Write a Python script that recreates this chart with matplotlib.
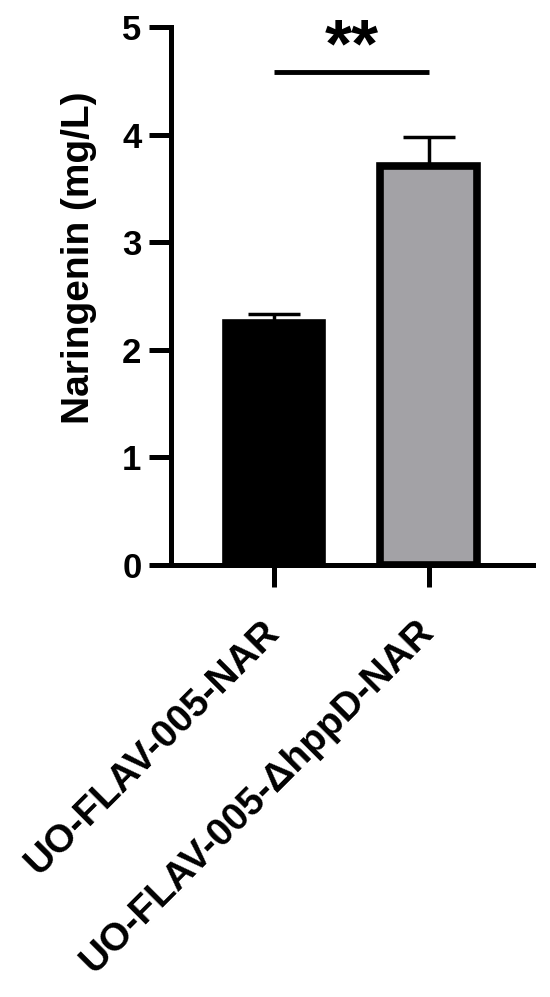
import numpy as np
import matplotlib
matplotlib.use('Agg')
import matplotlib.pyplot as plt

# values
strains = ['UO-FLAV-005-NAR', 'UO-FLAV-005-\u0394hppD-NAR']
naringenin = [2.25, 3.71]
sem = [0.085, 0.27]
bar_colors = ['#000000', '#a3a2a6']
sig_label = '**'

plt.rcParams['font.family'] = ['Liberation Sans', 'DejaVu Sans']
plt.rcParams['font.weight'] = 'bold'

fig = plt.figure(figsize=(5.5, 9.97), dpi=100)
ax = fig.add_axes([0.3104, 0.4333, 0.6587, 0.5393])

x = np.arange(len(strains))
ax.bar(x, naringenin, width=0.625, color=bar_colors, edgecolor='black',
       linewidth=5.5, zorder=2)
ax.errorbar(x, naringenin, yerr=[np.zeros(len(sem)), sem], fmt='none',
            ecolor='black', elinewidth=2.5, capsize=19, capthick=2.5, zorder=1)

# significance bar
ax.plot([0, 1], [4.58, 4.58], color='black', lw=3.5, solid_capstyle='butt')
ax.text(0.5, 4.80, sig_label, ha='center', va='center', fontsize=50,
        fontweight='bold')

ax.set_xlim(-0.670, 1.676)
ax.set_ylim(0, 5)
ax.set_yticks([0, 1, 2, 3, 4, 5])
ax.set_xticks(x)
ax.set_xticklabels(strains, rotation=45, ha='right', va='center',
                   rotation_mode='anchor', fontweight='bold')
ax.set_ylabel('Naringenin (mg/L)', fontsize=28, fontweight='bold')
ax.yaxis.set_label_coords(-0.203, 0.571)

for s in ['top', 'right']:
    ax.spines[s].set_visible(False)
for s in ['left', 'bottom']:
    ax.spines[s].set_linewidth(3.6)
ax.tick_params(axis='both', length=16, width=3.6)
ax.tick_params(axis='y', labelsize=25, pad=5)
ax.tick_params(axis='x', labelsize=28, pad=28)

fig.savefig('out.png', dpi=100)
